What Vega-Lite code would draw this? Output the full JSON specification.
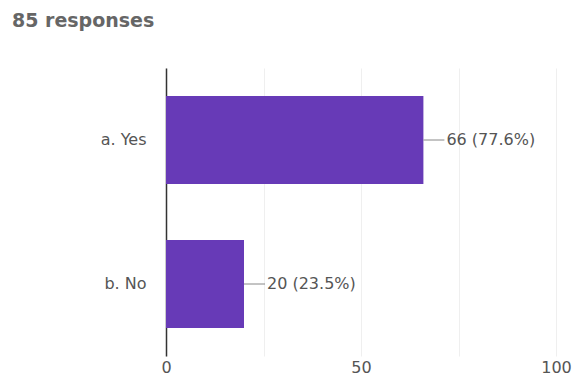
{
  "$schema": "https://vega.github.io/schema/vega-lite/v6.json",
  "width": 390,
  "height": 288,
  "autosize": {"type": "none"},
  "padding": {"left": 166, "top": 68, "right": 18, "bottom": 27},
  "background": "white",
  "title": {
    "text": "85 responses",
    "anchor": "start",
    "frame": "group",
    "dx": -154,
    "dy": -33,
    "font": "DejaVu Sans",
    "fontSize": 19,
    "fontWeight": "bold",
    "color": "#666666"
  },
  "config": {
    "view": {"stroke": null},
    "font": "DejaVu Sans"
  },
  "data": {
    "values": [
      {"answer": "a. Yes", "count": 66, "label": "66 (77.6%)"},
      {"answer": "b. No", "count": 20, "label": "20 (23.5%)"}
    ]
  },
  "encoding": {
    "y": {
      "field": "answer",
      "type": "nominal",
      "sort": null,
      "scale": {"paddingInner": 0.39, "paddingOuter": 0.195},
      "axis": {
        "title": null,
        "ticks": false,
        "domainColor": "#333333",
        "domainWidth": 1.5,
        "labelFontSize": 16,
        "labelColor": "#555555",
        "labelPadding": 20,
        "grid": false
      }
    }
  },
  "layer": [
    {
      "mark": {"type": "bar", "color": "#673ab7"},
      "encoding": {
        "x": {
          "field": "count",
          "type": "quantitative",
          "scale": {"domain": [0, 100]},
          "axis": {
            "title": null,
            "values": [0, 25, 50, 75, 100],
            "labelExpr": "datum.value % 50 == 0 ? datum.label : ''",
            "labelFlush": false,
            "domain": false,
            "ticks": false,
            "grid": true,
            "gridColor": "#efefef",
            "labelFontSize": 16,
            "labelColor": "#555555",
            "labelPadding": 3
          }
        }
      }
    },
    {
      "mark": {"type": "rule", "color": "#888888", "strokeWidth": 1, "x2Offset": 21},
      "encoding": {
        "x": {"field": "count", "type": "quantitative"},
        "x2": {"field": "count"}
      }
    },
    {
      "mark": {"type": "text", "align": "left", "baseline": "middle", "dx": 23, "fontSize": 16, "color": "#555555"},
      "encoding": {
        "x": {"field": "count", "type": "quantitative"},
        "text": {"field": "label"}
      }
    }
  ]
}
